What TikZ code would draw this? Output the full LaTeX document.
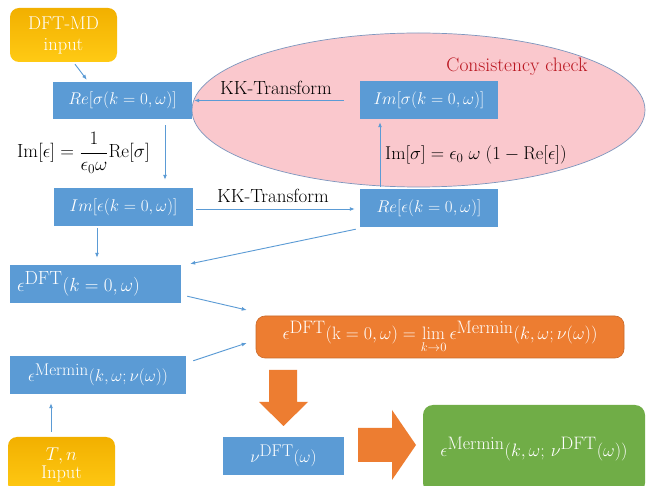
\RequirePackage{fix-cm}
\documentclass[tikz,border=0pt]{standalone}
\usepackage{amsmath}
\usetikzlibrary{arrows.meta,calc}
\definecolor{boxblue}{RGB}{91,155,213}
\definecolor{orng}{RGB}{237,125,49}
\definecolor{grn}{RGB}{112,173,71}
\definecolor{pinkfill}{RGB}{250,200,205}
\definecolor{ellline}{RGB}{125,150,190}
\definecolor{darkred}{RGB}{185,20,30}
\definecolor{yeltop}{RGB}{242,176,0}
\definecolor{yelbot}{RGB}{255,202,20}
\begin{document}
\begin{tikzpicture}[x=1pt,y=-1pt,
  bluebox/.style={fill=boxblue,text=white,inner sep=0pt,font=\fontsize{17}{20}\selectfont},
  yelbox/.style={rounded corners=9pt,top color=yeltop,bottom color=yelbot,text=white,inner sep=0pt,align=center},
  orbox/.style={rounded corners=9pt,fill=orng,draw=orng!85!black,line width=0.6pt,text=white,inner sep=0pt,font=\fontsize{18}{20}\selectfont},
  grbox/.style={rounded corners=10pt,fill=grn,text=white,inner sep=0pt,font=\fontsize{18}{20}\selectfont},
  lbl/.style={text=black,inner sep=0pt,font=\fontsize{19}{22}\selectfont},
  conn/.style={draw=boxblue,line width=0.9pt,-{Latex[length=5pt,width=4pt]}},
  bigarrow/.style={fill=orng}
]
\useasboundingbox (0,0) rectangle (646,486);
\fill[white] (0,0) rectangle (646,486);

% consistency ellipse
\draw[fill=pinkfill,draw=ellline,line width=0.7pt] (418.5,110) ellipse [x radius=226.5, y radius=77];
\node[text=darkred,inner sep=0pt,font=\fontsize{19.5}{22}\selectfont] (cons) at (517,67) {Consistency check};

% boxes
\node[yelbox,minimum width=107pt,minimum height=54pt,font=\fontsize{18.5}{21}\selectfont] (dftmd) at (63.5,35) {DFT-MD\\input};
\node[bluebox,minimum width=139pt,minimum height=37pt] (resig) at (122.5,100.5) {$Re[\sigma(k=0,\omega)]$};
\node[bluebox,minimum width=138pt,minimum height=38pt] (imsig) at (429,100) {$Im[\sigma(k=0,\omega)]$};
\node[bluebox,minimum width=139pt,minimum height=38pt] (imeps) at (123.5,207) {$Im[\epsilon(k=0,\omega)]$};
\node[bluebox,minimum width=138pt,minimum height=38pt] (reeps) at (429,208) {$Re[\epsilon(k=0,\omega)]$};
\node[bluebox,minimum width=171pt,minimum height=38pt,inner xsep=7pt,text width=157pt,align=left,font=\fontsize{19}{22}\selectfont] (epsdft) at (95.5,284) {$\epsilon^{\textstyle\mathrm{DFT}}(k=0,\omega)$};
\node[orbox,minimum width=368pt,minimum height=42pt] (lim) at (440,337) {$\epsilon^{\textstyle\mathrm{DFT}}(\mathrm{k}=0,\omega)=\lim\limits_{k\to0}\epsilon^{\textstyle\mathrm{Mermin}}(k,\omega;\nu(\omega))$};
\node[bluebox,minimum width=176pt,minimum height=38pt] (merm) at (98,375) {$\epsilon^{\textstyle\mathrm{Mermin}}(k,\omega;\nu(\omega))$};
\node[yelbox,minimum width=107pt,minimum height=56pt,font=\fontsize{18.5}{18}\selectfont] (tn) at (61.5,465) {$T,n$\\Input};
\node[bluebox,minimum width=121pt,minimum height=38pt] (nudft) at (283.5,456) {$\nu^{\textstyle\mathrm{DFT}}(\omega)$};
\node[grbox,minimum width=222pt,minimum height=88pt] (res) at (534,449) {$\epsilon^{\textstyle\mathrm{Mermin}}(k,\omega;\,\nu^{\textstyle\mathrm{DFT}}(\omega))$};

% labels
\node[lbl] (kk1) at (276,88) {KK-Transform};
\node[lbl] (kk2) at (273,196) {KK-Transform};
\node[lbl,anchor=west,font=\fontsize{19}{22}\selectfont] (f1) at (17,153) {$\mathrm{Im}[\epsilon]=\dfrac{1}{\epsilon_0\omega}\mathrm{Re}[\sigma]$};
\node[lbl,anchor=west,font=\fontsize{18.5}{22}\selectfont] (f2) at (385,155) {$\mathrm{Im}[\sigma]=\epsilon_0\;\omega\;(1-\mathrm{Re}[\epsilon])$};

% connectors
\draw[conn] ($(dftmd.south)+(11.5,2)$) -- ($(resig.north west)+(34,-2)$);
\draw[conn] ($(imsig.west)+(-16,0.5)$) -- ($(resig.east)+(2,0)$);
\draw[conn] ($(resig.south)+(42.5,6)$) -- ($(imeps.north)+(41.5,-8)$);
\draw[conn] ($(imeps.east)+(3,2)$) -- ($(reeps.west)+(-5,1)$);
\draw[conn] ($(reeps.north)+(-49,-2)$) -- ($(imsig.south)+(-49,3)$);
\draw[conn] ($(imeps.south)+(-26.5,2)$) -- ($(epsdft.north)+(1.5,-7)$);
\draw[conn] ($(reeps.south west)+(-4,2)$) -- ($(epsdft.north east)+(9,-1)$);
\draw[conn] ($(epsdft.south east)+(6,-7)$) -- ($(lim.west)+(-9,-27)$);
\draw[conn] ($(merm.north east)+(7,5)$) -- ($(lim.west)+(-9,6)$);
\draw[conn] ($(tn.north)+(-10.5,-5)$) -- ($(merm.south)+(-47,9)$);

% big arrows
\fill[bigarrow] (269,370) -- (297,370) -- (297,402) -- (308,402) -- (283.5,426) -- (259,402) -- (269,402) -- cycle;
\fill[bigarrow] (358,428) -- (392,428) -- (392,410) -- (416,445) -- (392,480) -- (392,462) -- (358,462) -- cycle;
\end{tikzpicture}
\end{document}
